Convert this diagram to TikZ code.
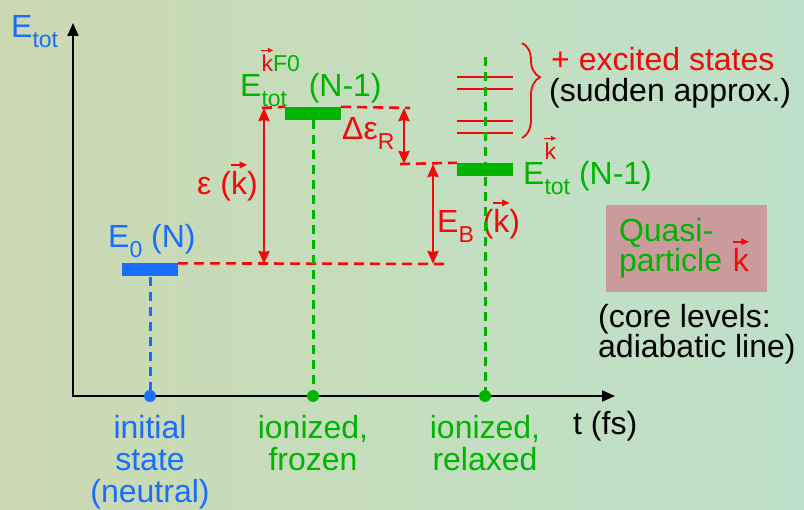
\documentclass[tikz,border=0pt]{standalone}
\usepackage{amsmath}
\usepackage{graphicx}
\usepackage{fontspec}
\setmainfont{Liberation Sans}
\usetikzlibrary{arrows.meta,decorations.pathreplacing}

\definecolor{eblue}{RGB}{25,110,255}
\definecolor{egreen}{RGB}{0,180,0}
\definecolor{ered}{RGB}{240,10,10}
\definecolor{qpink}{RGB}{202,155,156}
\definecolor{bgleft}{RGB}{204,216,178}
\definecolor{bgmid}{RGB}{196,222,190}
\definecolor{bgright}{RGB}{190,224,200}

% vector k, subscript, sub+superscript
\newcommand{\kv}{{\color{ered}\leavevmode\hbox{\ooalign{k\cr\hidewidth\raisebox{0.84em}{\tikz[x=1em,y=1em]\draw[ered,line width=0.05em,-{Triangle[length=0.24em,width=0.2em]}](0,0)--(0.52,0);}\hidewidth\cr}}}}
\newcommand{\lo}[1]{\raisebox{-0.3em}{\fontsize{23}{23}\selectfont #1}}
\newcommand{\hilo}[2]{\hbox{\fontsize{23}{23}\selectfont\ooalign{\raisebox{25pt}{#1}\cr\raisebox{-10pt}{#2}\cr}}}

\begin{document}
\begin{tikzpicture}[x=1pt,y=-1pt,
  txt/.style={inner sep=0,font=\fontsize{32}{32}\selectfont},
  lvl/.style={inner sep=0,minimum width=56pt,minimum height=13pt},
  dot/.style={circle,inner sep=0,minimum size=12pt},
  axis/.style={black,line width=2pt},
  rdash/.style={ered,line width=2.6pt,dash pattern=on 10pt off 6pt},
  vdash/.style={line width=3pt,dash pattern=on 9pt off 6pt},
  rarr/.style={ered,line width=2.5pt,{Stealth[length=13pt,width=11pt,inset=1pt]}-{Stealth[length=13pt,width=11pt,inset=1pt]}}]
\shade[left color=bgleft,right color=bgright,middle color=bgmid](0,0)rectangle(804,510);

% axes
\coordinate (o) at (73,396);
\coordinate (ytop) at (73,23);
\coordinate (xend) at (615,396);
\draw[axis,{Triangle[length=13pt,width=11pt]}-{Triangle[length=13pt,width=11pt]}](ytop)--(o)--(xend);
\node[txt,eblue,anchor=base west] (etot) at (11,38) {E\lo{tot}};
\node[txt,anchor=base west] (tfs) at (573,435) {t (fs)};

% time points
\node[dot,fill=eblue] (t0) at (150,396) {};
\node[dot,fill=egreen] (t1) at (313,396) {};
\node[dot,fill=egreen] (t2) at (485,396) {};
\node[txt,eblue,align=center,anchor=base] (l0) at (150,503) {initial\\state\\(neutral)};
\node[txt,egreen,align=center,anchor=base] (l1) at (313,471) {ionized,\\frozen};
\node[txt,egreen,align=center,anchor=base] (l2) at (485,471) {ionized,\\relaxed};

% levels
\coordinate (a0) at (450,264);
\coordinate (b0) at (262,108);
\coordinate (b1) at (410,108);
\coordinate (c0) at (400,164);
\node[lvl,fill=eblue] (e0) at (150,270) {};
\node[lvl,fill=egreen] (fz) at (313,113.5) {};
\node[lvl,fill=egreen] (rx) at (485,169.5) {};
\draw[rdash](e0.north east)--(a0);
\draw[rdash](b0)--(fz.north west) (fz.north east)--(b1);
\draw[rdash](c0)--(rx.north west);
\draw[vdash,eblue](e0.south)--(t0);
\draw[vdash,egreen](fz.south)--(t1);

\node[txt,eblue,anchor=base west] (le0) at (108,248) {E\lo{0} (N)};
\node[txt,egreen,anchor=base west] (lfz) at (240,97) {E\hilo{\kv F0}{tot} (N-1)};
\node[txt,egreen,anchor=base west] (lrx) at (523,185) {E\hilo{\kv}{tot} (N-1)};

% arrows
\coordinate (xe) at (264,0);
\coordinate (xd) at (404,0);
\coordinate (xb) at (433,0);
\draw[rarr](b0-|xe)--(a0-|xe);
\draw[rarr](b1-|xd)--(c0-|xd);
\draw[rarr](c0-|xb)--(a0-|xb);
\node[txt,ered,anchor=base west] (leps) at (197,195) {ε (\kv)};
\node[txt,ered,anchor=base west] (ldr) at (342,140) {Δε\lo{R}};
\node[txt,ered,anchor=base west] (leb) at (437,233) {E\lo{B} (\kv)};

% excited states
\foreach \y in {77,89,121,133}
  \draw[ered,line width=2.6pt](457,\y)--(513,\y);
\coordinate (rtop) at (485,57);
\draw[vdash,egreen](rtop)--(t2);
\draw[ered,line width=1.8pt,decorate,decoration={brace,amplitude=18pt,aspect=0.36}](522,43)--(522,138);
\node[txt,ered,anchor=base west] (lex) at (551,71) {+ excited states};
\node[txt,anchor=base west] (lsa) at (549,102) {(sudden approx.)};

% quasiparticle box
\node[txt,fill=qpink,text=egreen,align=left,text width=135pt,inner xsep=13pt,minimum height=87pt,font=\fontsize{32}{29}\selectfont] (qp) at (686.5,248.5) {Quasi-\\particle \kv};
\node[txt,align=left,anchor=base west,font=\fontsize{32}{28}\selectfont] (lcore) at (598,358) {(core levels:\\adiabatic line)};
\end{tikzpicture}
\end{document}
